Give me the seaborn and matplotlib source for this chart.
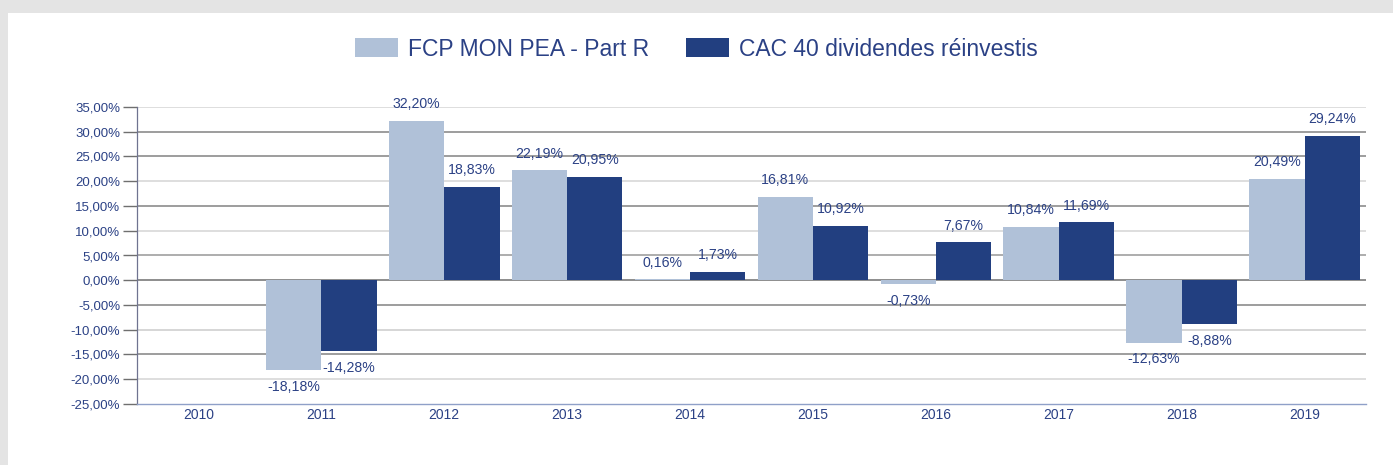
import matplotlib
matplotlib.use("Agg")
import matplotlib.pyplot as plt
import seaborn as sns
import pandas as pd
import numpy as np
from matplotlib.patches import Rectangle

years = ["2010", "2011", "2012", "2013", "2014", "2015", "2016", "2017", "2018", "2019"]
series_names = ["FCP MON PEA - Part R", "CAC 40 dividendes réinvestis"]
fcp = [np.nan, -18.18, 32.20, 22.19, 0.16, 16.81, -0.73, 10.84, -12.63, 20.49]
cac = [np.nan, -14.28, 18.83, 20.95, 1.73, 10.92, 7.67, 11.69, -8.88, 29.24]
yticks = [-25, -20, -15, -10, -5, 0, 5, 10, 15, 20, 25, 30, 35]

light = "#b0c1d8"
dark = "#223f80"
text_col = "#2b4185"

sns.set_theme(style="white")
plt.rcParams["font.family"] = ["Liberation Sans", "DejaVu Sans"]

df = pd.DataFrame({
    "year": years * 2,
    "value": fcp + cac,
    "series": [series_names[0]] * len(years) + [series_names[1]] * len(years),
})
df_plot = df.dropna()

fig = plt.figure(figsize=(13.93, 4.65), dpi=100)
fig.patch.set_facecolor("#e4e4e4")
fig.add_artist(Rectangle((8 / 1393, 0), 1, (465 - 13) / 465, transform=fig.transFigure,
                         facecolor="white", edgecolor="none", zorder=-10))

ax = fig.add_axes([137 / 1393, (465 - 404) / 465, (1366 - 137) / 1393, (404 - 107) / 465])
ax.set_facecolor("white")

sns.barplot(data=df_plot, x="year", y="value", hue="series", order=years,
            hue_order=series_names, palette=[light, dark], width=0.9,
            saturation=1, ax=ax, errorbar=None, legend=True, zorder=3,
            linewidth=0, edgecolor="none")

ax.set_ylim(-25, 35)
ax.set_xlim(-0.5, len(years) - 0.5)
ax.set_yticks(yticks)
ax.set_yticklabels([f"{v:.2f}".replace(".", ",") + "%" for v in yticks],
                   fontsize=9.5, color=text_col)
ax.set_xticks(range(len(years)))
ax.set_xticklabels(years, fontsize=10, color=text_col)
ax.set_xlabel("")
ax.set_ylabel("")

# gridlines
grid_cols = {35: "#d8d8d8", 30: "#8c8c8c", 25: "#8c8c8c", 20: "#d8d8d8", 15: "#8c8c8c",
             10: "#d8d8d8", 5: "#a0a0a0", 0: "#7a7a7a", -5: "#8c8c8c", -10: "#d0d0d0",
             -15: "#8c8c8c", -20: "#d8d8d8"}
for yv, c in grid_cols.items():
    ax.axhline(yv, color=c, lw=1.2, zorder=1)

for s in ["top", "right"]:
    ax.spines[s].set_visible(False)
ax.spines["left"].set_color("#6f7390")
ax.spines["left"].set_linewidth(0.9)
ax.spines["bottom"].set_color("#8fa0c8")
ax.spines["bottom"].set_linewidth(1.0)
ax.tick_params(axis="y", which="both", left=True, length=10, width=1.0, color="#6f6f6f", pad=2)
ax.tick_params(axis="x", which="both", bottom=False, length=0, pad=3)

# bar labels
vals_by_series = [fcp, cac]
for cont, vals in zip(ax.containers, vals_by_series):
    labs = [f"{v:.2f}".replace(".", ",") + "%" for v in vals if not np.isnan(v)]
    ax.bar_label(cont, labels=labs, padding=7, fontsize=10.2, color=text_col)

# legend
handles, labels = ax.get_legend_handles_labels()
ax.get_legend().remove()
fig.legend(handles, labels, loc="center", bbox_to_anchor=(0.5, (465 - 49) / 465),
           ncol=2, frameon=False, fontsize=16.5, handlelength=1.88, handleheight=0.87,
           columnspacing=1.6, handletextpad=0.44, labelcolor=text_col)

fig.savefig("out.png", dpi=100)
